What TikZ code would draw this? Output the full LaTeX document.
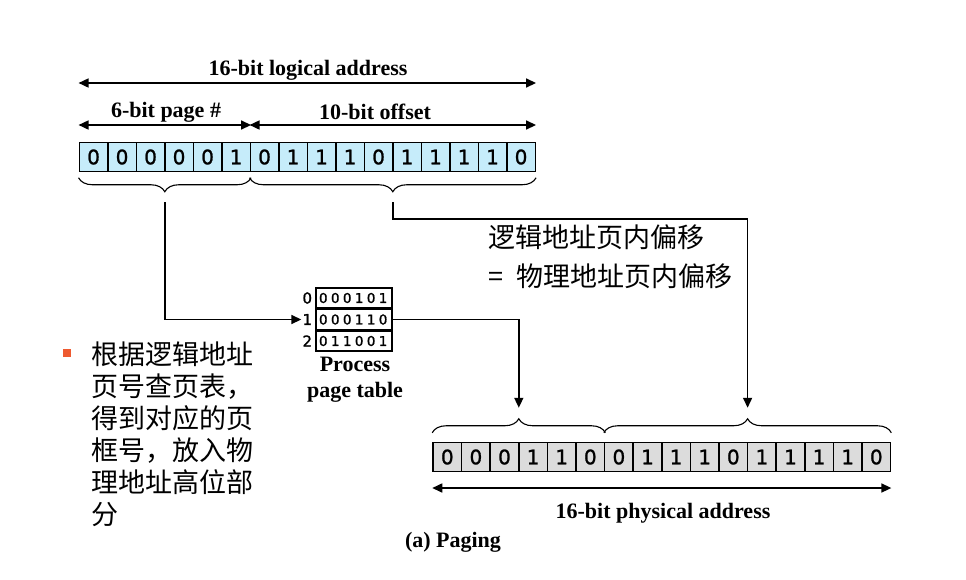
\documentclass[tikz,border=0pt]{standalone}
\usepackage{fontspec}
\setmainfont{Liberation Serif}
\newfontfamily\cjk{Noto Sans CJK SC}
\newfontfamily\bitfont[FakeBold=1.2]{DejaVu Sans}
\newfontfamily\tblfont[LetterSpace=25,FakeBold=1.2]{DejaVu Sans}
\usepackage{xcolor}
\usepackage{tikz}
\usetikzlibrary{positioning,calc,arrows.meta,decorations.pathreplacing}

\definecolor{regblue}{RGB}{198,236,250}
\definecolor{reggray}{RGB}{220,220,220}
\definecolor{bulletred}{RGB}{238,90,48}

\tikzset{
  lcell/.style={draw, line width=1.5pt, fill=regblue, minimum width=28.5pt, minimum height=29pt, inner sep=0pt, font=\bitfont\fontsize{20}{20}\selectfont},
  pcell/.style={lcell, fill=reggray, minimum width=28.6pt},
  tentry/.style={draw, line width=1.5pt, minimum width=76pt, minimum height=20pt, inner sep=0pt, text width=70pt, align=left, font=\tblfont\fontsize{13.5}{13.5}\selectfont},
  ixlbl/.style={inner sep=1pt, font=\bitfont\fontsize{15}{15}\selectfont},
  lbl/.style={inner sep=0pt, font=\bfseries\fontsize{22}{26}\selectfont},
  cjktxt/.style={inner sep=0pt, font=\cjk\fontsize{27}{32}\selectfont},
  dimarr/.style={{Triangle[length=10pt,width=9pt]}-{Triangle[length=10pt,width=9pt]}, line width=1.6pt},
  conn/.style={-{Triangle[length=10pt,width=9pt]}, line width=1.6pt},
  brc/.style={decorate, decoration={brace, amplitude=14pt}, line width=1.1pt},
  brcdown/.style={brc, decoration={mirror}}
}

\begin{document}
\begin{tikzpicture}[x=1pt,y=-1pt]
    \useasboundingbox (0,0) rectangle (966,579);

    % Logical address
    \foreach \b [count=\i] in {0,0,0,0,0,1,0,1,1,1,0,1,1,1,1,0}
        \node[lcell] (l\i) at ({79.3+28.5*(\i-0.5)},157) {\b};
    \node[lbl] (lname) at (308,70) {16-bit logical address};
    \draw[dimarr] (l1.west |- 0,83) -- (l16.east |- 0,83);
    \node[lbl] (pgname) at (166,112) {6-bit page \#};
    \node[lbl] (offname) at (375,112) {10-bit offset};
    \draw[dimarr] (l1.west |- 0,125) -- (l6.east |- 0,125);
    \draw[dimarr] (l7.west |- 0,125) -- (l16.east |- 0,125);

    % Braces under the logical address
    \draw[brcdown] ($(l1.south west)+(0,5.5)$) -- ($(l6.south east)+(0,5.5)$);
    \draw[brcdown] ($(l7.south west)+(0,5.5)$) -- ($(l16.south east)+(0,5.5)$);
    \coordinate (lpg) at ($(l1.south west)!0.5!(l6.south east)+(0,30)$);
    \coordinate (loff) at ($(l7.south west)!0.5!(l16.south east)+(0,30)$);

    % Page table
    \node[tentry] (t0) at (354,298) {000101};
    \node[tentry, below=0pt of t0] (t1) {000110};
    \node[tentry, below=0pt of t1] (t2) {011001};
    \foreach \r in {0,1,2} \node[ixlbl, left=2pt of t\r] (i\r) {\r};
    \node[lbl, align=center] (ptname) at (355,380) {Process\\page table};

    % Physical address
    \foreach \b [count=\i] in {0,0,0,1,1,0,0,1,1,1,0,1,1,1,1,0}
        \node[pcell] (p\i) at ({433+28.6*(\i-0.5)},457) {\b};
    \draw[dimarr] (p1.west |- 0,488) -- (p16.east |- 0,488);
    \node[lbl] (pname) at (663,513) {16-bit physical address};
    \node[lbl] (cap) at (453,542) {(a) Paging};

    % Braces over the physical address
    \draw[brc] ($(p1.north west)+(0,-9)$) -- ($(p6.north east)+(0,-9)$);
    \draw[brc] ($(p7.north west)+(0,-9)$) -- ($(p16.north east)+(0,-9)$);
    \coordinate (ppg) at ($(p1.north west)!0.5!(p6.north east)+(0,-34)$);
    \coordinate (poff) at ($(p7.north west)!0.5!(p16.north east)+(0,-34)$);

    % Connectors
    \draw[conn] (lpg) |- (i1.west);
    \draw[conn] (loff) -- ++(0,17) -| (poff);
    \draw[conn] (t1.east) -| (ppg);

    % Notes
    \node[cjktxt, anchor=west, align=left] (offnote) at (488,257) {逻辑地址页内偏移\\[7pt]=\hspace{0.5em}物理地址页内偏移};
    \node[fill=bulletred, minimum size=8pt, inner sep=0pt] (bul) at (67,353) {};
    \node[cjktxt, anchor=north west, align=left] (note) at (91,342) {根据逻辑地址\\页号查页表，\\得到对应的页\\框号，放入物\\理地址高位部\\分};
\end{tikzpicture}
\end{document}
